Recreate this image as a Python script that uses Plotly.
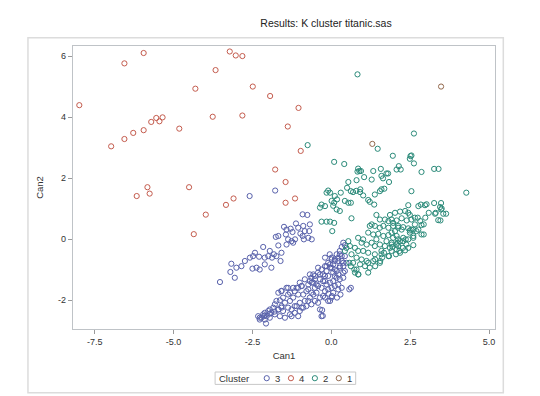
import plotly.graph_objects as go

# ---------------- data ----------------
cluster_order = ["3", "4", "2", "1"]

# Cluster 3 (blue)
c3_can1 = [-2.59, -1.78, -0.91, -0.76,
           -1.50, -1.42, -1.29, -1.12, -1.05, -1.23, -1.44, -0.98, -0.91, -0.84, -0.89, -0.70,
           -1.76, -1.68, -1.37, -1.26, -1.21, -1.15, -1.42, -0.87, -0.73, -2.16,
           -1.95, -1.82, -1.68, -1.58, -1.74, -1.88, -2.00, -2.11, -2.29, -2.42, -2.48, -2.58,
           -2.74, -2.85, -3.01, -3.17, -3.20, -3.06, -3.53, -2.50, -2.37, -2.27, -2.11, -1.90, -1.61,
           -0.68, -0.62, 0.38, 0.43, 0.33,
           0.27, 0.17, 0.33, 0.01, 0.11, 0.22, -0.10, 0.06, -0.20, -0.04, -0.31, -0.15, -0.42,
           -0.26, -0.52, 0.11, 0.27, 0.38, 0.43,
           -0.57, -0.62, -0.94, -1.10, -1.37, -1.58,
           -1.68, -1.58, -1.42, -1.37, -1.53, -1.63, -1.47, -1.31, -1.21, -1.16, -1.05, -0.94,
           -0.89, -0.79, -0.73, -0.68, -0.57, -0.52, -0.42, -0.47, -0.57, -0.68, -0.84, -1.00,
           -1.10, -1.26, -1.37, -1.53, -1.68, -1.84, -1.90, -2.00, -2.05, -2.16, -2.21, -2.32,
           -2.27, -2.11, -1.95, -1.79, -1.63, -1.47, -1.31, -1.16, -1.00, -0.89, -0.79, -0.63,
           -0.52, -0.36, -0.26, -0.20, -0.10, 0.01, 0.11, 0.22, 0.27, 0.38, 0.17, 0.06, -0.04,
           -0.15, -0.26, -0.36, -0.52, -0.63, -0.10, 0.06, 0.17, 0.27, 0.38, 0.48, -0.04, 0.01,
           0.11, 0.22, 0.33, -0.10, 0.01, -0.36, -0.31, -1.05, -1.26,
           -0.42, -0.68, 0.43, 0.27, -0.05, -0.20,
           -2.07, -2.27, -2.13, -1.96, -1.80, -1.68, -1.58, -0.29, -0.27, 0.57, 0.62, 0.29,
           0.18, -0.04, 0.02, -0.09,
           -0.84, -0.73, -0.63, -0.47, -0.31, -0.20, -1.05, -1.00, -1.21, -1.31, -1.79, -1.95,
           -2.11, -1.74, -1.58, -1.16, -0.94, -0.73, -0.42, -0.20, 0.06, 0.22, 0.33, 0.11,
           0.38, 0.22, 0.01, -0.15, -0.36, -0.20]
c3_can2 = [1.41, 1.59, 0.81, 0.79,
           0.40, 0.31, 0.34, 0.51, 0.37, 0.23, 0.15, 0.18, 0.10, 0.26, 0.43, 0.26,
           0.07, 0.10, -0.01, -0.07, -0.12, -0.01, -0.18, -0.01, 0.04, -0.26,
           -0.39, -0.50, -0.21, -0.45, -0.56, -0.61, -0.56, -0.61, -0.58, -0.45, -0.56, -0.61,
           -0.72, -0.89, -0.94, -0.81, -1.08, -1.27, -1.41, -0.97, -0.94, -1.00, -0.83, -0.94, -0.72,
           0.48, -0.01, -0.12, -0.20, -0.26,
           -0.39, -0.50, -0.56, -0.61, -0.67, -0.72, -0.78, -0.83, -0.89, -0.94, -1.00, -1.05, -1.10,
           -1.16, -1.21, -1.00, -0.89, -0.78, -1.05,
           -1.16, -1.43, -1.54, -1.60, -1.60, -1.70,
           -1.76, -1.71, -1.60, -1.82, -1.92, -2.01, -2.09, -2.03, -1.92, -1.71, -1.60, -1.54,
           -1.82, -1.71, -1.49, -1.38, -1.43, -1.60, -1.54, -1.76, -1.82, -1.92, -2.03, -2.09,
           -2.20, -2.31, -2.25, -2.36, -2.31, -2.25, -2.42, -2.36, -2.53, -2.47, -2.58, -2.53,
           -2.64, -2.64, -2.58, -2.47, -2.53, -2.58, -2.47, -2.42, -2.36, -2.25, -2.20, -2.14,
           -2.03, -1.92, -1.87, -1.71, -1.65, -1.60, -1.54, -1.49, -1.32, -1.27, -1.27, -1.38, -1.43,
           -1.49, -1.38, -1.32, -1.32, -1.27, -1.21, -1.10, -1.05, -0.94, -0.89, -0.78, -0.83, -0.67,
           -0.72, -0.61, -0.72, -2.03, -1.92, -2.31, -2.53, -2.53, -2.53,
           -0.94, -1.16, -0.56, -0.50, -0.50, -0.61,
           -2.77, -2.58, -2.52, -2.45, -2.38, -2.31, -2.25, -2.33, -2.52, -1.65, -1.60, -1.82,
           -1.92, -2.03, -1.87, -1.79,
           -1.32, -1.65, -1.76, -1.49, -1.60, -1.38, -1.82, -1.43, -1.60, -1.76, -2.14, -2.31,
           -2.42, -2.03, -2.20, -2.20, -2.25, -2.03, -2.09, -1.92, -1.76, -1.65, -1.60, -1.21,
           -1.10, -1.16, -0.94, -0.89, -1.16, -1.21]

# Cluster 4 (red)
c4_can1 = [-7.99, -6.56, -5.95, -6.98, -6.56, -6.28, -5.95, -5.71, -5.55, -5.45, -5.35, -4.82,
           -4.31, -3.76, -3.67, -3.22, -3.03, -2.82, -2.82, -2.49, -1.94, -1.04, -1.38, -0.97,
           -1.78, -1.45, -1.45, -1.15, -5.83, -5.76, -6.17, -4.51, -3.34, -3.10, -3.98, -4.36]
c4_can2 = [4.39, 5.76, 6.10, 3.04, 3.28, 3.48, 3.57, 3.84, 3.97, 3.86, 3.99, 3.62,
           4.93, 4.01, 5.54, 6.15, 6.02, 6.00, 4.05, 5.00, 4.69, 4.30, 3.69, 2.89,
           2.28, 1.87, 1.19, 1.33, 1.70, 1.49, 1.41, 1.70, 1.12, 1.33, 0.80, 0.16]

# Cluster 2 (teal)
c2_can1 = [0.83, -0.75, 2.62, 1.47, 1.95,
           0.09, 0.41, 0.85, 0.89, 0.83, 0.94, 1.33, 1.04, 1.28, 0.80, 0.54, 0.50, 0.62, 0.30,
           -0.10, -0.15, -0.04, 0.11, 0.69, 0.91, 1.01, 1.38, 1.17, 1.22, 1.36, 0.43, 0.54, 0.62,
           0.01, 0.09, 0.06, -0.31, -0.20, -0.36, 0.92, 0.79, 0.18,
           2.51, 2.54, 2.49, 2.62, 2.07, 2.20, 2.14, 2.86, 3.26, 3.40, 1.75, 1.57, 1.59, 1.83,
           1.59, 1.54, 2.54, 4.28, 2.44, 2.76, 2.97, 3.26, 3.48, 3.45, 1.64, 1.80, 1.68,
           -0.31, -0.15, -0.04, 0.09, 0.03, 0.64, 0.27, 0.17, 1.43, 1.54, 1.22,
           1.86, 2.02, 2.18, 2.34, 2.44, 2.49,
           1.70, 1.81, 1.91, 2.07, 2.23, 2.39, 2.54, 2.65,
           1.28, 1.38, 1.54, 1.65, 1.81, 1.96, 2.12, 2.28, 2.44,
           1.17, 1.33, 1.49, 1.65, 1.81, 1.96, 2.12, 1.43,
           0.85, 1.01, 0.96, 1.12, 1.28, 1.38, 1.54, 1.70, 1.86,
           0.54, 0.59, 0.75, 0.85, 1.01, 1.17, 1.38, 1.59, 1.81,
           0.64, 0.80, 0.96, 1.12, 1.33, 1.54, 0.91, 1.07, 1.22, 0.80, 0.69,
           0.75, 0.85, 1.17,
           1.91, 2.07, 2.18, 2.34, 2.44, 2.60,
           1.59, 1.75, 1.91, 2.07, 2.28, 2.44, 2.60, 2.70, 2.54, 2.65,
           0.48, 0.43,
           2.84, 3.02, 3.50, 3.29, 3.55, 3.39, 2.74, 2.86, 2.86, 2.60, 2.49,
           1.96, 2.12, 2.23, 2.02, 1.91, 2.07, 2.28, 2.18, 2.12, 1.91,
           2.93, 2.76, 2.60, 2.38, 2.27, 2.16, 2.05, 1.83, 1.61, 1.39, 1.67, 1.94, 2.10, 2.36,
           2.49, 2.82, 2.93, 2.98, 3.09, 3.31, 3.48, 3.64, 3.46,
           0.86, 0.73, 0.62, 0.57, 1.17, 1.39, 1.55]
c2_can2 = [5.40, 3.08, 3.46, 2.96, 2.73,
           2.53, 2.46, 2.31, 2.23, 2.21, 2.23, 2.23, 2.03, 1.95, 1.93, 1.87, 1.68, 1.57, 1.52,
           1.59, 1.52, 1.52, 1.41, 1.54, 1.54, 1.43, 1.46, 1.28, 1.22, 1.13, 1.25, 1.19, 1.19,
           1.25, 1.19, 1.09, 1.13, 1.08, 1.03, 1.63, 1.58, 1.30,
           2.72, 2.74, 2.63, 2.48, 2.28, 2.28, 2.39, 2.20, 2.30, 2.30, 2.15, 2.30, 2.07, 1.87,
           1.63, 1.57, 1.57, 1.52, 1.11, 1.08, 1.11, 1.18, 1.18, 1.05, 1.99, 2.15, 1.65,
           0.57, 0.57, 0.57, 0.53, 0.26, 0.68, 0.92, 0.97, 0.79, 0.64, 0.43,
           0.79, 0.86, 0.90, 0.92, 0.86, 0.79,
           0.64, 0.59, 0.64, 0.61, 0.68, 0.61, 0.64, 0.70,
           0.48, 0.43, 0.37, 0.43, 0.37, 0.43, 0.37, 0.39, 0.35,
           0.21, 0.15, 0.17, 0.10, 0.13, 0.04, -0.01, -0.01,
           0.04, -0.01, -0.12, -0.18, -0.12, -0.23, -0.18, -0.23, -0.29,
           -0.07, -0.23, -0.29, -0.39, -0.39, -0.45, -0.50, -0.50, -0.56,
           -0.50, -0.61, -0.67, -0.72, -0.72, -0.78, -0.83, -0.89, -0.94, -1.00, -0.78,
           -1.10, -1.16, -1.10,
           -0.39, -0.34, -0.45, -0.37, -0.29, -0.20,
           -0.39, -0.07, -0.12, -0.18, -0.07, -0.01, 0.10, 0.26, 0.31, 0.48,
           -0.29, -0.39,
           1.13, 1.14, 1.00, 0.83, 0.83, 0.62, 0.70, 0.46, 0.15, 0.31, 0.28,
           0.53, 0.43, 0.31, 0.26, 0.21, 0.10, 0.04, -0.07, -0.23, -0.18,
           0.15, 0.31, 0.04, -0.18, -0.29, -0.39, -0.50, -0.56, -0.61, -0.67, -0.45, -0.26, -0.12, -0.01,
           0.21, 0.59, 0.48, 0.70, 0.86, 0.86, 0.97, 0.83, 0.61,
           -1.16, -1.00, -0.89, -0.78, -0.78, -0.89, -0.72]

# Cluster 1 (brown)
c1_can1 = [1.30, 3.48]
c1_can2 = [3.12, 5.00]

x_ticks = [-7.5, -5.0, -2.5, 0.0, 2.5, 5.0]
x_tick_labels = ["-7.5", "-5.0", "-2.5", "0.0", "2.5", "5.0"]
y_ticks = [-2, 0, 2, 4, 6]
y_tick_labels = ["-2", "0", "2", "4", "6"]

# ---------------- styling ----------------
colors = {"3": "#5861ab", "4": "#c45c4e", "2": "#2a8a79", "1": "#93694d"}
series = {"3": (c3_can1, c3_can2), "4": (c4_can1, c4_can2),
          "2": (c2_can1, c2_can2), "1": (c1_can1, c1_can2)}

FONT = "Liberation Sans, Arial, Helvetica, sans-serif"
W, H = 540, 396
PL, PR, PT, PB = 65, 486.7, 38.3, 321.3  # plot area in px


def xp(px):
    return (px - PL) / (PR - PL)


def yp(py):
    return (PB - py) / (PB - PT)


fig = go.Figure()
for key in ["3", "4", "2", "1"]:
    cx, cy = series[key]
    fig.add_trace(go.Scatter(
        x=cx, y=cy, mode="markers", name=key, showlegend=False,
        marker=dict(symbol="circle-open", size=5.2, color=colors[key],
                    line=dict(width=1.0, color=colors[key])),
    ))

shapes = []
# outer frame
shapes.append(dict(type="rect", xref="paper", yref="paper",
                   x0=xp(20), x1=xp(495), y0=yp(30), y1=yp(385),
                   line=dict(color="#dcdcdc", width=1.5), layer="below"))
# legend box
shapes.append(dict(type="rect", xref="paper", yref="paper",
                   x0=xp(207), x1=xp(347.5), y0=yp(364.3), y1=yp(376.7),
                   line=dict(color="#c8c8c8", width=1)))
annotations = [dict(text="Cluster", xref="paper", yref="paper", x=xp(226), y=yp(370.5),
                    showarrow=False, xanchor="center", yanchor="middle",
                    font=dict(family=FONT, size=9.5, color="#333333"))]
leg_marker_px = [258.6, 282.8, 306.7, 330.6]
for key, mx in zip(cluster_order, leg_marker_px):
    shapes.append(dict(type="circle", xref="paper", yref="paper",
                       xsizemode="pixel", ysizemode="pixel",
                       xanchor=xp(mx), yanchor=yp(370.5),
                       x0=-2.6, x1=2.6, y0=-2.6, y1=2.6,
                       line=dict(color=colors[key], width=1.0)))
    annotations.append(dict(text=key, xref="paper", yref="paper", x=xp(mx + 10.5),
                            y=yp(370.5), showarrow=False, xanchor="center",
                            yanchor="middle",
                            font=dict(family=FONT, size=9.5, color="#333333")))

axis_common = dict(showgrid=False, zeroline=False, showline=True, mirror=True,
                   linecolor="#bfc3c7", linewidth=1.2, ticks="outside", ticklen=4,
                   tickcolor="#9a9a9a", tickwidth=1,
                   tickfont=dict(family=FONT, size=9, color="#333333"))

fig.update_layout(
    width=W, height=H,
    margin=dict(l=PL, r=W - PR, t=PT, b=H - PB, pad=0),
    paper_bgcolor="white", plot_bgcolor="white",
    title=dict(text="Results: K cluster titanic.sas", xref="container", yref="container",
               x=318 / W, y=1 - 15.7 / H, xanchor="center", yanchor="middle",
               font=dict(family=FONT, size=10.5, color="#222222")),
    xaxis=dict(range=[-8.19, 5.19], tickvals=x_ticks, ticktext=x_tick_labels,
               title=dict(text="Can1", standoff=6,
                          font=dict(family=FONT, size=9.5, color="#333333")),
               **axis_common),
    yaxis=dict(range=[-2.95, 6.33], tickvals=y_ticks, ticktext=y_tick_labels,
               title=dict(text="Can2", standoff=12,
                          font=dict(family=FONT, size=9.5, color="#333333")),
               **axis_common),
    shapes=shapes, annotations=annotations,
)
fig.update_xaxes(automargin=False)
fig.update_yaxes(automargin=False)

fig.write_html("out.html")
